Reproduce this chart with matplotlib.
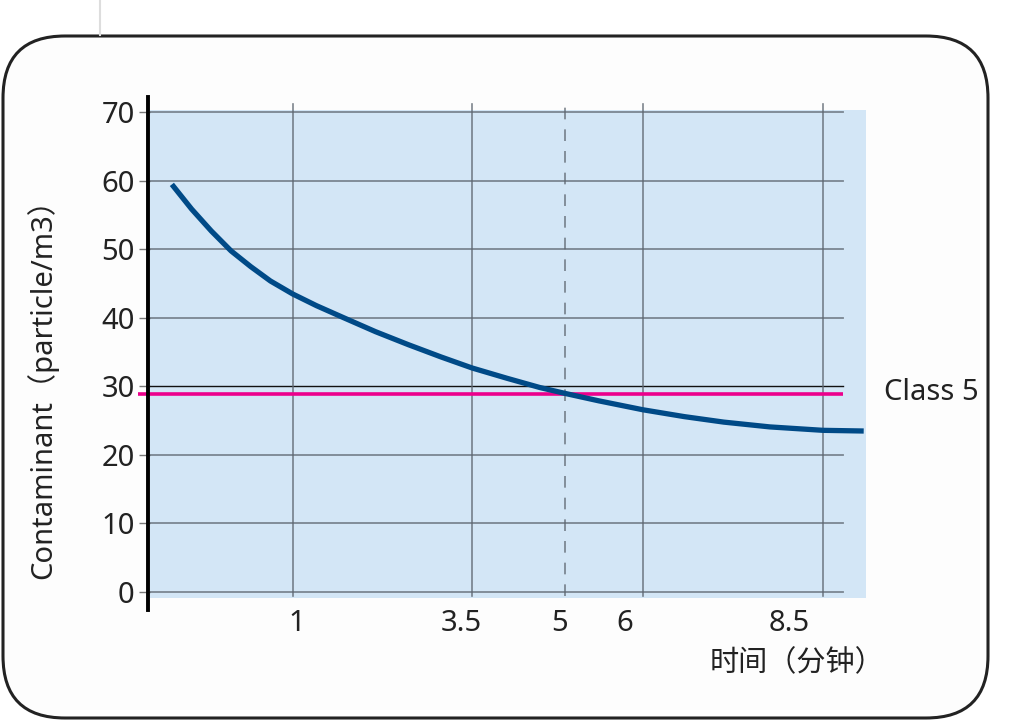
import matplotlib
matplotlib.use("Agg")
import matplotlib.pyplot as plt
from matplotlib.patches import FancyBboxPatch
from matplotlib.lines import Line2D

plt.rcParams['font.family'] = ['Noto Sans', 'Noto Sans CJK SC', 'DejaVu Sans']

# ---- data ----
time_min = [-0.90, -0.60, -0.30, 0.0, 0.30, 0.60, 0.94, 1.30, 1.70, 2.20, 2.70, 3.20,
            3.67, 4.20, 4.70, 5.08, 5.60, 6.27, 6.90, 7.50, 8.20, 9.01, 9.63]
contaminant = [59.5, 55.9, 52.7, 49.8, 47.5, 45.4, 43.5, 41.8, 40.1, 38.0, 36.1, 34.3,
               32.7, 31.2, 29.85, 29.0, 27.9, 26.6, 25.6, 24.8, 24.1, 23.6, 23.5]
class5_level = 28.9
x_tick_pos = [1.0, 3.5, 5.0, 6.0, 8.5]
x_tick_labels = ['1', '3.5', '5', '6', '8.5']
x_grid_pos = [0.94, 3.67, 6.27, 9.01]
x_dashed_pos = [5.08]
y_ticks = [0, 10, 20, 30, 40, 50, 60, 70]
y_label = 'Contaminant（particle/m3）'
x_label = '时间（分钟）'
ref_label = 'Class 5'

W, H = 1011, 727
fig = plt.figure(figsize=(W / 100, H / 100), dpi=100)
fig.patch.set_facecolor('white')

def fx(px):
    return px / W

def fy(py):
    return 1 - py / H

# overlay for the rounded frame
ov = fig.add_axes([0, 0, 1, 1], zorder=0)
ov.set_xlim(0, W)
ov.set_ylim(H, 0)
ov.axis('off')
ov.add_patch(FancyBboxPatch((3, 36), 985, 682,
                            boxstyle='round,pad=0,rounding_size=62',
                            facecolor='#fdfdfd', edgecolor='#222222', linewidth=2.2))
ov.plot([100, 100], [0, 35], color='#dddddd', linewidth=1.5)

# main axes
ax = fig.add_axes([fx(150), fy(598), fx(866 - 150), (598 - 110) / H], zorder=1)
ax.set_facecolor('#d3e6f6')
ax.set_xlim(-1.233, 9.665)
ax.set_ylim(-0.876, 70.36)
for s in ax.spines.values():
    s.set_visible(False)

grid_col = '#5d6670'
x_grid_end = 9.31
for y in y_ticks:
    if y == 30:
        ax.plot([-1.233, x_grid_end], [y, y], color='#111111', lw=1.0, zorder=2)
    else:
        ax.plot([-1.233, x_grid_end], [y, y], color=grid_col, lw=1.3, alpha=0.75, zorder=2)
for xg in x_grid_pos:
    ax.plot([xg, xg], [-0.6, 71.2], color=grid_col, lw=1.2, alpha=0.8, zorder=2, clip_on=False)
for xg in x_dashed_pos:
    ax.plot([xg, xg], [-0.6, 71.2], color=grid_col, lw=1.2, alpha=0.8, zorder=2,
            clip_on=False, dashes=(7, 6))

ax.set_yticks(y_ticks)
ax.set_yticklabels([str(v) for v in y_ticks], fontsize=21, color='#222222')
ax.tick_params(axis='y', direction='out', length=8, width=1.0, color='#777777', pad=3)
ax.set_xticks(x_tick_pos)
ax.set_xticklabels(x_tick_labels, fontsize=21, color='#222222')
ax.tick_params(axis='x', length=0, pad=8)

# class 5 line
ax.plot([-1.42, x_grid_end], [class5_level, class5_level], color='#ec008c', lw=2.6,
        zorder=3, clip_on=False, solid_capstyle='butt')

# curve
ax.plot(time_min, contaminant, color='#004a87', lw=3.8, zorder=4,
        solid_capstyle='butt', solid_joinstyle='round', clip_on=False)

# left thick spine
fig.add_artist(Line2D([fx(147.5), fx(147.5)], [fy(97), fy(610)], color='black', lw=2.8, zorder=5))

# texts
fig.text(fx(42), fy(382), y_label, rotation=90, ha='center', va='center',
         fontsize=21, color='#222222')
fig.text(fx(884), fy(664), x_label, ha='right', va='center', fontsize=21, color='#222222')
fig.text(fx(884), fy(393), ref_label, ha='left', va='center', fontsize=21, color='#222222')

fig.savefig('out.png', dpi=100)
